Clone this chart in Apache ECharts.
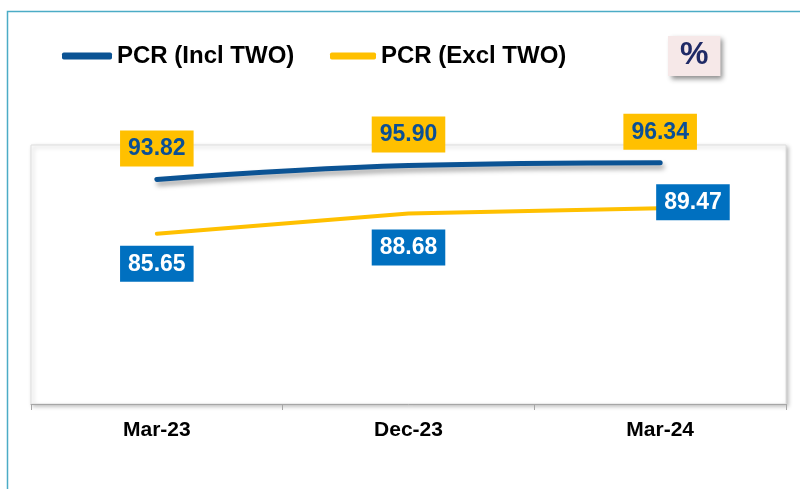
<!DOCTYPE html>
<html>
<head>
<meta charset="utf-8">
<script src="https://cdn.jsdelivr.net/npm/echarts@6/dist/echarts.min.js"></script>
<style>html,body{margin:0;padding:0;background:#fff;}#c{width:800px;height:489px;}</style>
</head>
<body>
<div id="c"></div>
<script>
var categories = ['Mar-23', 'Dec-23', 'Mar-24'];
var pcrIncl = [93.82, 95.90, 96.34];
var pcrExcl = [85.65, 88.68, 89.47];
var seriesNames = ['PCR (Incl TWO)', 'PCR (Excl TWO)'];
var unitText = '%';

var FONT = '"Liberation Sans", Arial, sans-serif';
var chart = echarts.init(document.getElementById('c'));

var inclData = pcrIncl.map(function (v) { return { value: v }; });
var exclDistances = [12, 16, 0];
var exclData = pcrExcl.map(function (v, i) {
  if (i === pcrExcl.length - 1) {
    return { value: v, label: { position: 'right', distance: -4, offset: [0, -6] } };
  }
  return { value: v, label: { distance: exclDistances[i] } };
});

chart.setOption({
  backgroundColor: '#ffffff',
  animation: false,
  graphic: [{
    type: 'rect', left: 5, top: 9, z: -10,
    shape: { width: 820, height: 520 },
    style: { fill: 'none', stroke: '#4bacc6', lineWidth: 1.5 }
  }],
  title: {
    text: unitText, left: 668, top: 36,
    padding: [3, 12, 5, 12],
    backgroundColor: '#f6e8e8',
    shadowColor: 'rgba(0,0,0,0.45)', shadowBlur: 5, shadowOffsetX: 3, shadowOffsetY: 3,
    textStyle: { fontFamily: FONT, fontSize: 32, fontWeight: 'bold', color: '#1f2a66' }
  },
  legend: [{
    data: [seriesNames[0]], left: 62, top: 44, padding: 0,
    icon: 'roundRect', itemWidth: 50, itemHeight: 7, itemGap: 0,
    itemStyle: { color: '#0b5394', opacity: 1 },
    textStyle: { fontFamily: FONT, fontSize: 24, fontWeight: 'bold', color: '#000' }
  }, {
    data: [seriesNames[1]], left: 330, top: 44, padding: 0,
    icon: 'roundRect', itemWidth: 46, itemHeight: 7, itemGap: 0,
    itemStyle: { color: '#ffc000', opacity: 1 },
    textStyle: { fontFamily: FONT, fontSize: 24, fontWeight: 'bold', color: '#000' }
  }],
  grid: {
    left: 31, right: 14, top: 145, bottom: 85,
    show: true, backgroundColor: '#ffffff', borderColor: '#dedede', borderWidth: 1,
    shadowColor: 'rgba(0,0,0,0.25)', shadowBlur: 4, shadowOffsetX: 2, shadowOffsetY: 2
  },
  xAxis: {
    type: 'category', data: categories, boundaryGap: true,
    axisLine: { lineStyle: { color: '#a6a6a6', width: 1 } },
    axisTick: { show: true, length: 6, lineStyle: { color: '#a6a6a6' } },
    axisLabel: { fontFamily: FONT, fontSize: 21, fontWeight: 'bold', color: '#000', margin: 16 }
  },
  yAxis: {
    type: 'value', min: 60, max: 99, show: false,
    splitLine: { show: false }
  },
  series: [{
    name: seriesNames[0], type: 'line', data: inclData,
    smooth: 0.4, symbol: 'circle', symbolSize: 0, showSymbol: true, z: 3,
    itemStyle: { color: '#0b5394' },
    lineStyle: { color: '#0b5394', width: 5, cap: 'round',
      shadowColor: 'rgba(0,0,0,0.35)', shadowBlur: 5, shadowOffsetX: 2, shadowOffsetY: 4 },
    label: {
      show: true, position: 'top', distance: 13,
      formatter: function (p) { return p.value.toFixed(2); },
      backgroundColor: '#ffc000', padding: [7, 8, 6, 8],
      fontFamily: FONT, fontSize: 23, fontWeight: 'bold', color: '#0b4f95'
    }
  }, {
    name: seriesNames[1], type: 'line', data: exclData,
    smooth: false, symbol: 'circle', symbolSize: 0, showSymbol: true, z: 3,
    itemStyle: { color: '#ffc000' },
    lineStyle: { color: '#ffc000', width: 4, cap: 'round' },
    label: {
      show: true, position: 'bottom', distance: 12,
      formatter: function (p) { return p.value.toFixed(2); },
      backgroundColor: '#0070c0', padding: [7, 8, 6, 8],
      fontFamily: FONT, fontSize: 23, fontWeight: 'bold', color: '#ffffff'
    }
  }]
});
</script>
</body>
</html>
